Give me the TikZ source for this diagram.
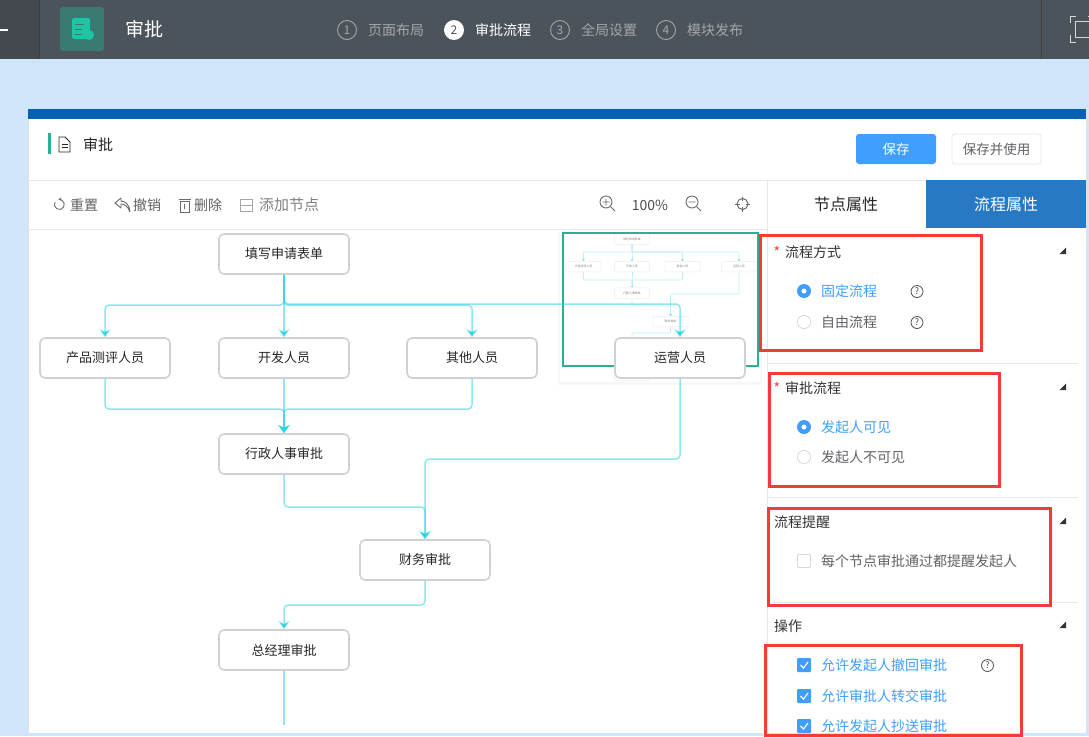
\documentclass[tikz,border=0pt]{standalone}
\usepackage{fontspec}
\setmainfont{Noto Sans CJK SC}
\usetikzlibrary{arrows.meta,positioning}
\definecolor{pagebg}{HTML}{CFE5FA}
\definecolor{barbg}{HTML}{4C545B}
\definecolor{barleft}{HTML}{43494E}
\definecolor{stripblue}{HTML}{0560AF}
\definecolor{tabblue}{HTML}{2779C3}
\definecolor{elblue}{HTML}{409EFF}
\definecolor{flowcyan}{HTML}{2FD4E6}
\definecolor{minicyan}{HTML}{BDF0F5}
\definecolor{markred}{HTML}{F63A3A}
\definecolor{minigreen}{HTML}{2EAF93}
\definecolor{softline}{HTML}{E6E8EC}
\definecolor{graytext}{HTML}{606266}
\definecolor{dimtext}{HTML}{A3A7AB}
\definecolor{iconteal}{HTML}{1DC5A5}
\definecolor{iconbox}{HTML}{3A7A72}
\tikzset{
    flownode/.style={draw=black!18,line width=1.6pt,fill=white,rounded corners=5pt,minimum width=130pt,minimum height=40pt,inner sep=0pt,text=black!85,font=\fontsize{13}{15}\selectfont},
    mininode/.style={draw=black!7,line width=.5pt,fill=white,rounded corners=1pt,minimum width=35pt,minimum height=10.5pt,inner sep=0pt,text=black!50,font=\fontsize{2.9}{3}\selectfont},
    flowline/.style={draw=flowcyan,draw opacity=.55,line width=1.5pt,rounded corners=4pt},
    flowarrow/.style={flowline,-{Stealth[length=8pt,width=11pt,inset=2.5pt,color=flowcyan]}},
    miniline/.style={draw=minicyan,line width=.6pt,rounded corners=1pt},
    miniarrow/.style={miniline,-{Stealth[length=2pt,width=2.5pt,color=flowcyan!70]}},
    redbox/.style={draw=markred,line width=3pt},
    label/.style={anchor=west,inner sep=0pt,text=black!80,font=\fontsize{14}{16}\selectfont},
    option/.style={anchor=west,inner sep=0pt,text=graytext,font=\fontsize{14}{16}\selectfont},
    picked/.style={anchor=west,inner sep=0pt,text=elblue,font=\fontsize{14}{16}\selectfont},
    tool/.style={anchor=west,inner sep=0pt,text=black!62,font=\fontsize{14}{16}\selectfont},
    stepnum/.style={circle,draw=dimtext,line width=.9pt,minimum size=19pt,inner sep=0pt,text=dimtext,font=\fontsize{12}{14}\selectfont},
    stepname/.style={anchor=west,inner sep=0pt,text=dimtext,font=\fontsize{14}{16}\selectfont},
    helpmark/.style={circle,draw=black!70,line width=.8pt,minimum size=12pt,inner sep=0pt,text=black!75,font=\fontsize{9}{10}\selectfont},
    toolicon/.style={draw=black!58,line width=.9pt},
    fold/.style={fill=black!80}
}
\begin{document}
\begin{tikzpicture}[x=1pt,y=-1pt]
    \useasboundingbox(0,0)rectangle(1089,736);
    \fill[pagebg](0,0)rectangle(1089,736);
    % top bar
    \fill[barbg](0,0)rectangle(1089,59);
    \fill[barleft](0,0)rectangle(39,59);
    \draw[black!75,line width=.8pt](39,0)--(39,59);
    \draw[black!75,line width=.8pt](1041,0)--(1041,59);
    \fill[white](0,28.5)rectangle(8,30.5);
    \fill[rounded corners=3pt,fill=iconbox](60,7)rectangle(104,51);
    \fill[rounded corners=1.5pt,fill=iconteal](72,18)rectangle(90,39);
    \fill[iconteal](89,35)circle(5);
    \draw[iconbox,line width=.7pt](75,24)--(84,24)(75,29)--(82,29)(75,34)--(82,34);
    \node[anchor=west,inner sep=0pt,text=white,font=\fontsize{19}{22}\selectfont](apptitle)at(125,29){审批};
    \foreach \stepid/\stepx/\steptext in {1/347/页面布局,3/560/全局设置,4/666/模块发布}{
        \node[stepnum](num\stepid)at(\stepx,30){\stepid};
        \node[stepname,right=11pt of num\stepid](name\stepid){\steptext};
    }
    \node[stepnum,fill=white,draw=white,text=barbg](num2)at(454,30){2};
    \node[stepname,text=white,right=11pt of num2](name2){审批流程};
    % full screen mark
    \draw[black!15,line width=1pt](1070,23)--(1070,16)--(1076,16)(1070,35)--(1070,42)--(1076,42)(1088,16)--(1089,16);
    \draw[black!15,line width=1pt](1075,21)rectangle(1089,37);
    % panel
    \fill[white](28,109)rectangle(1086,733);
    \draw[black!12,line width=.6pt](28,733)--(28,109)--(1086,109)--(1086,733);
    \fill[stripblue](28,109)rectangle(1086,119);
    \fill[minigreen](48,133)rectangle(51,154);
    \draw[black!85,line width=.8pt](59,137)--(65,137)--(70,142)--(70,152)--(59,152)--cycle;
    \draw[black!85,line width=.7pt](61.5,144)--(67.5,144)(61.5,147.5)--(67.5,147.5);
    \node[anchor=west,inner sep=0pt,text=black!85,font=\fontsize{15}{17}\selectfont](formname)at(83,145){审批};
    \node[fill=elblue,rounded corners=3pt,minimum width=80pt,minimum height=30pt,inner sep=0pt,text=white,font=\fontsize{13.5}{16}\selectfont](savebtn)at(896,149){保存};
    \node[draw=softline,line width=.9pt,rounded corners=3pt,minimum width=89pt,minimum height=30pt,inner sep=0pt,text=graytext,font=\fontsize{13.5}{16}\selectfont](usebtn)at(996.5,149){保存并使用};
    \draw[softline,line width=1pt](28,180)--(1086,180);
    \draw[softline,line width=1pt](28,229)--(767,229);
    \draw[softline,line width=1pt](767,180)--(767,733);
    % toolbar
    \draw[toolicon,-{Stealth[length=3pt,width=3.5pt]}](55,202)arc[start angle=210,end angle=-100,radius=5];
    \node[tool](resetbtn)at(70,205){重置};
    \draw[toolicon,line join=round](130,212)..controls(128,206)and(124,204)..(121,204)--(121,208)--(115,203)--(121,198)--(121,201)..controls(125,201)and(130,205)..(130,212);
    \node[tool](undobtn)at(133,205){撤销};
    \draw[toolicon](180,201)rectangle(189,212);
    \draw[toolicon](178.5,199)--(190.5,199)(184.5,203.5)--(184.5,208.5);
    \node[tool](delbtn)at(194,205){删除};
    \draw[toolicon,black!35](240,199)rectangle(252,211);
    \draw[toolicon,black!35](240,205)--(252,205);
    \node[tool,text=black!50,font=\fontsize{15}{17}\selectfont](addbtn)at(259,205){添加节点};
    \draw[toolicon](606,202)circle(6);
    \draw[toolicon](602.5,202)--(609.5,202)(606,198.5)--(606,205.5)(610.5,206.5)--(615,211);
    \node[text=black!70,inner sep=0pt,font=\fontsize{14}{16}\selectfont](zoomval)at(650,205){100\%};
    \draw[toolicon](692,202)circle(6);
    \draw[toolicon](688.5,202)--(695.5,202)(696.5,206.5)--(701,211);
    \draw[toolicon,line width=1pt](742.5,204)circle(5.5);
    \draw[toolicon,line width=1pt](742.5,196.5)--(742.5,201)(742.5,207)--(742.5,211.5)(735,204)--(739.5,204)(745.5,204)--(750,204);
    % tabs
    \fill[tabblue](926,180)rectangle(1086,228);
    \node[text=black!85,inner sep=0pt,font=\fontsize{16}{18}\selectfont](tabnode)at(846,204){节点属性};
    \node[text=white,inner sep=0pt,font=\fontsize{16}{18}\selectfont](tabflow)at(1006,204){流程属性};
    % minimap
    \fill[black!3](558,233)rectangle(762,385);
    \fill[white](560,232)rectangle(760,382);
    \node[mininode](m1)at(632,239){填写申请表单};
    \node[mininode](m2)at(583.5,266.5){产品测评人员};
    \node[mininode](m3)at(632,266.5){开发人员};
    \node[mininode](m4)at(682.5,266.5){其他人员};
    \node[mininode](m5)at(739,266.5){运营人员};
    \node[mininode](m6)at(632,293){行政人事审批};
    \node[mininode](m7)at(670.5,321.5){财务审批};
    \node[mininode](m8)at(632,346.5){总经理审批};
    \node[mininode](m9)at(632,375){};
    \foreach \mini in {m2,m3,m4,m5}{
        \draw[miniarrow](m1.south)|-(632,252)-|(\mini.north);
    }
    \foreach \mini in {m2,m3,m4}{
        \draw[miniline](\mini.south)|-(632,280)--(632,284);
    }
    \draw[miniarrow](632,280)--(m6.north);
    \draw[miniarrow](m6.south)|-(670.5,306)--(m7.north);
    \draw[miniarrow](m5.south)|-(670.5,294)--(m7.north);
    \draw[miniarrow](m7.south)|-(632,333)--(m8.north);
    \draw[minigreen,line width=2pt](562.5,233)rectangle(758,366);
    % flow nodes
    \node[flownode](apply)at(284,254){填写申请表单};
    \node[flownode](review)at(105,358){产品测评人员};
    \node[flownode](dev)at(284,358){开发人员};
    \node[flownode](other)at(472,358){其他人员};
    \node[flownode](ops)at(680,358){运营人员};
    \node[flownode](admin)at(284,454){行政人事审批};
    \node[flownode](finance)at(425,560){财务审批};
    \node[flownode](boss)at(284,650){总经理审批};
    \coordinate(bossend)at(284,725);
    \draw[flowarrow](apply.south)|-(284,305)-|(review.north);
    \draw[flowarrow](apply.south)--(dev.north);
    \draw[flowarrow](apply.south)|-(284,305)-|(other.north);
    \draw[flowarrow](apply.south)|-(284,304)-|(ops.north);
    \draw[flowarrow](review.south)|-(284,409)--(admin.north);
    \draw[flowarrow](dev.south)--(admin.north);
    \draw[flowarrow](other.south)|-(284,409)--(admin.north);
    \draw[flowarrow](admin.south)|-(425,507)--(finance.north);
    \draw[flowarrow](ops.south)|-(425,459)--(finance.north);
    \draw[flowarrow](finance.south)|-(284,605)--(boss.north);
    \draw[flowline](boss.south)--(bossend);
    % property sections
    \draw[softline,line width=.9pt](767,363)--(1078,363)(767,497)--(1078,497)(767,602)--(1078,602);
    \foreach \foldy in {251,387,521,625}{
        \fill[fold](1059.5,\foldy+3)--(1066,\foldy+3)--(1066,\foldy-3.5)--cycle;
    }
    \node[text=markred,inner sep=0pt,font=\fontsize{14}{16}\selectfont](star1)at(777,252){*};
    \node[label](sec1)at(785,252){流程方式};
    \node[text=markred,inner sep=0pt,font=\fontsize{14}{16}\selectfont](star2)at(777,388){*};
    \node[label](sec2)at(785,388){审批流程};
    \node[label](sec3)at(774,522){流程提醒};
    \node[label](sec4)at(774,626){操作};
    % radios
    \foreach \radioy in {291,427}{
        \fill[elblue](804,\radioy)circle(7);
        \fill[white](804,\radioy)circle(2.5);
    }
    \foreach \radioy in {322,457}{
        \draw[black!15,line width=.8pt,fill=white](804,\radioy)circle(6.6);
    }
    \node[picked](opt1)at(821,291){固定流程};
    \node[option](opt2)at(821,322){自由流程};
    \node[picked](opt3)at(821,427){发起人可见};
    \node[option](opt4)at(821,457){发起人不可见};
    \node[helpmark](help1)at(917,291.5){?};
    \node[helpmark](help2)at(917,322.5){?};
    % checks
    \draw[black!15,line width=.8pt,rounded corners=1pt](797.5,554.5)rectangle(810.5,567.5);
    \node[option](opt5)at(821,561){每个节点审批通过都提醒发起人};
    \foreach \checky/\checkid/\checktext in {665/6/允许发起人撤回审批,696/7/允许审批人转交审批,726/8/允许发起人抄送审批}{
        \fill[elblue,rounded corners=1pt](797,\checky-7)rectangle(811,\checky+7);
        \draw[white,line width=1.1pt](800.5,\checky)--(803.5,\checky+3)--(808,\checky-3);
        \node[picked](opt\checkid)at(821,\checky){\checktext};
    }
    \node[helpmark](help3)at(987.5,665.5){?};
    % red marks
    \draw[redbox](760.5,235.5)rectangle(981,350);
    \draw[redbox](769.5,373)rectangle(999.5,486);
    \draw[redbox](768.5,508.5)rectangle(1050.5,605);
    \draw[redbox](765.5,645.5)rectangle(1021,735);
\end{tikzpicture}
\end{document}
